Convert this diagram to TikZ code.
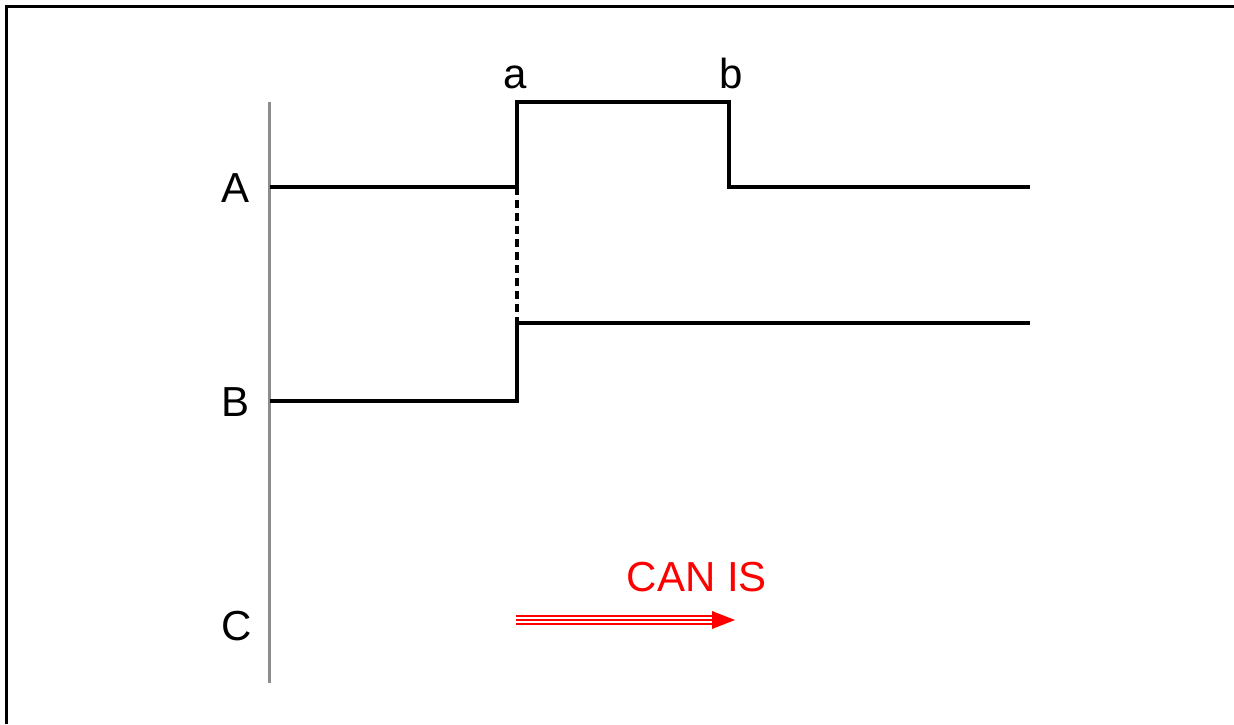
\documentclass[tikz,border=0pt]{standalone}
\usepackage{fontspec}
\setmainfont{Liberation Sans}
\usetikzlibrary{arrows.meta}
\begin{document}
\begin{tikzpicture}[x=1pt,y=-1pt,
  lbl/.style={font=\fontsize{42}{42}\selectfont, inner sep=0pt, anchor=base},
  sig/.style={line width=3.8pt, line join=miter},
  axisline/.style={line width=3pt, draw=black!45},
  frame/.style={line width=3pt},
  redarrow/.style={draw=red, line width=1.8pt}]
\useasboundingbox (0,0) rectangle (1234,724);
\fill[white] (0,0) rectangle (1234,724);
% frame (left and top only)
\draw[frame] (6,724) -- (6,6) -- (1234,6);
% axis
\coordinate (axT) at (269,102);
\coordinate (axB) at (269,683);
\draw[axisline] (axT) -- (axB);
% labels
\node[lbl] (A) at (236,202) {A};
\node[lbl] (B) at (236,416) {B};
\node[lbl] (C) at (237,640) {C};
\node[lbl] (la) at (515,88) {a};
\node[lbl] (lb) at (731,88) {b};
\node[lbl, text=red] (can) at (697,591) {CAN IS};
% signal A
\coordinate (a0) at (270,187);
\coordinate (a1) at (517,187);
\coordinate (a2) at (517,102);
\coordinate (a3) at (729,102);
\coordinate (a4) at (729,187);
\coordinate (a5) at (1030,187);
\draw[sig] (a0) -- (a1) -- (a2) -- (a3) -- (a4) -- (a5);
% dashed link
\coordinate (b2) at (517,323);
\draw[line width=3.8pt, dash pattern=on 8pt off 5pt] (a1) -- (b2);
% signal B
\coordinate (b0) at (270,401);
\coordinate (b1) at (517,401);
\coordinate (b3) at (1030,323);
\draw[sig] (b0) -- (b1) -- (b2) -- (b3);
% red arrow
\coordinate (r0) at (516,620);
\coordinate (r1) at (712,620);
\coordinate (rt) at (735,620);
\draw[redarrow] ([yshift=-4pt]r0) -- ([yshift=-4pt]r1);
\draw[redarrow] (r0) -- (r1);
\draw[redarrow] ([yshift=4pt]r0) -- ([yshift=4pt]r1);
\fill[red] ([yshift=-9pt]r1) -- (rt) -- ([yshift=9pt]r1) -- cycle;
\end{tikzpicture}
\end{document}
